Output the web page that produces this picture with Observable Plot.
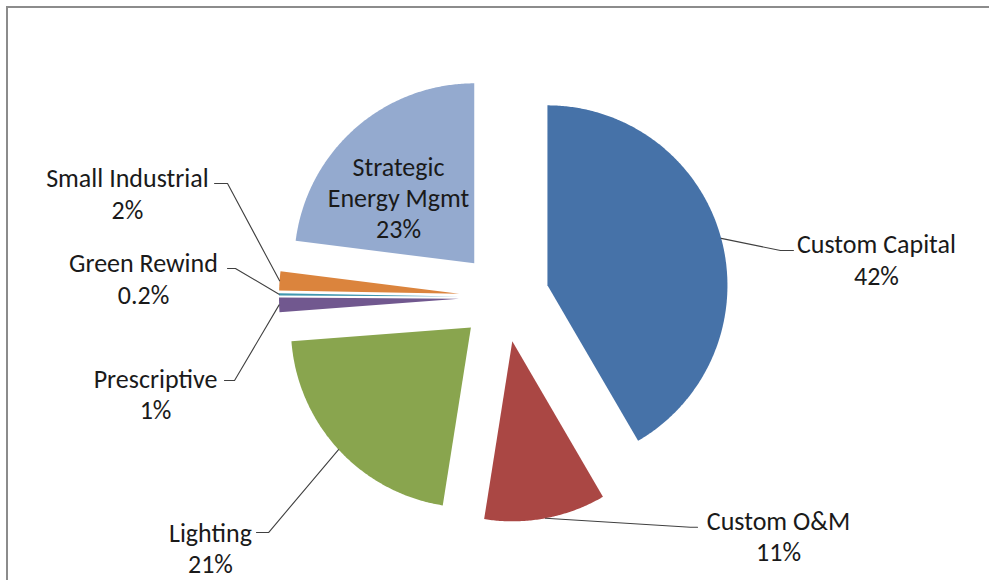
<!DOCTYPE html>
<html>
<head>
<meta charset="utf-8">
<script src="https://cdn.jsdelivr.net/npm/d3@7"></script>
<script src="https://cdn.jsdelivr.net/npm/@observablehq/plot@0.6"></script>
<style>
  html, body { margin: 0; padding: 0; background: #fff; overflow: hidden; }
  #wrap { position: relative; width: 991px; height: 582px; overflow: hidden; }
  #frame { position: absolute; left: 6px; top: 6px; width: 983px; height: 574px; box-sizing: border-box;
           border-left: 2px solid #8c8c8c; border-top: 2px solid #8c8c8c; pointer-events: none; }
  #chart { position: absolute; left: 0; top: 0; }
</style>
</head>
<body>
<div id="wrap"><div id="chart"></div><div id="frame"></div></div>
<script>
// ---- data ----
const names = ["Custom Capital", "Custom O&M", "Lighting", "Prescriptive", "Green Rewind", "Small Industrial", "Strategic Energy Mgmt"];
const shares = [41.6, 10.9, 21.3, 1.3, 0.2, 1.7, 23.0];
const pctLabels = ["42%", "11%", "21%", "1%", "0.2%", "2%", "23%"];
const labelNames = ["Custom Capital", "Custom O&M", "Lighting", "Prescriptive", "Green Rewind", "Small Industrial", "Strategic\nEnergy Mgmt"];
const colors = ["#4672A8", "#AA4744", "#89A54E", "#71588F", "#4198AF", "#DB843D", "#94AACF"];

// ---- layout (in pie-radius units, pie centre = 0,0) ----
const explode = 0.25;
const labelPos = [[2.069, 0.212], [1.525, -1.324], [-1.631, -1.391], [-1.936, -0.536], [-2.003, 0.106], [-2.092, 0.578], [-0.586, 0.556]];
const elbowPos = [[1.536, 0.259], [1.036, -1.279], [-1.308, -1.308], [-1.497, -0.463], [-1.492, 0.159], [-1.536, 0.631], null];
const endPos   = [[1.608, 0.259], [1.075, -1.279], [-1.375, -1.308], [-1.553, -0.463], [-1.536, 0.159], [-1.608, 0.631], null];

const R_PX = 180, CX = 503.5, CY = 296.6, W = 991, H = 582;

const arcs = d3.pie().sort(null).value(d => d)(shares);

const slicePts = [];
const leaderPts = [];
const labels = [];
arcs.forEach((a, i) => {
  const mid = (a.startAngle + a.endAngle) / 2;
  const ox = explode * Math.sin(mid), oy = explode * Math.cos(mid);
  slicePts.push({name: names[i], x: ox, y: oy});
  const n = Math.max(2, Math.ceil((a.endAngle - a.startAngle) / (Math.PI / 360)));
  for (let k = 0; k <= n; k++) {
    const t = a.startAngle + (a.endAngle - a.startAngle) * k / n;
    slicePts.push({name: names[i], x: ox + Math.sin(t), y: oy + Math.cos(t)});
  }
  slicePts.push({name: names[i], x: ox, y: oy});
  if (elbowPos[i]) {
    leaderPts.push({name: names[i], x: ox + Math.sin(mid), y: oy + Math.cos(mid)});
    leaderPts.push({name: names[i], x: elbowPos[i][0], y: elbowPos[i][1]});
    leaderPts.push({name: names[i], x: endPos[i][0], y: endPos[i][1]});
  }
  labels.push({name: names[i], x: labelPos[i][0], y: labelPos[i][1], text: labelNames[i] + "\n" + pctLabels[i]});
});

const chart = Plot.plot({
  width: W, height: H, margin: 0,
  style: {fontFamily: "Carlito, Calibri, Lato, sans-serif", background: "transparent"},
  x: {domain: [-CX / R_PX, (W - CX) / R_PX], axis: null},
  y: {domain: [(CY - H) / R_PX, CY / R_PX], axis: null},
  color: {domain: names, range: colors},
  marks: [
    Plot.line(slicePts, {x: "x", y: "y", z: "name", fill: "name", stroke: "none", curve: "linear"}),
    Plot.line(leaderPts, {x: "x", y: "y", z: "name", stroke: "#404040", strokeWidth: 1.1}),
    Plot.text(labels, {x: "x", y: "y", text: "text", fontSize: 26, lineHeight: 1.2, fill: "#1a1a1a"})
  ]
});
document.getElementById("chart").appendChild(chart);
</script>
</body>
</html>
